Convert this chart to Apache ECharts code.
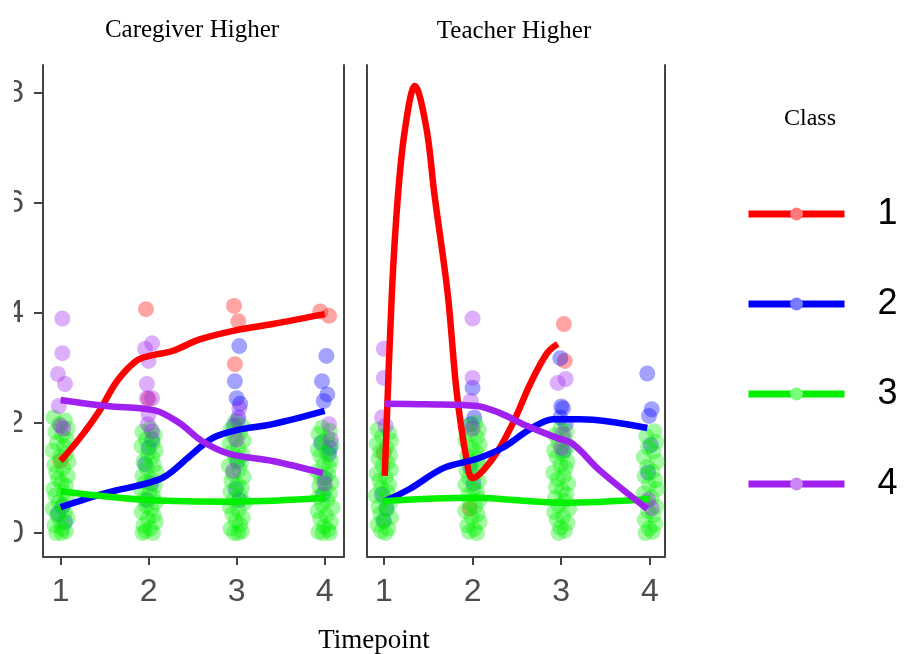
<!DOCTYPE html>
<html>
<head>
<meta charset="utf-8">
<script src="https://cdn.jsdelivr.net/npm/echarts@6/dist/echarts.min.js"></script>
<style>
  html, body { margin: 0; padding: 0; background: #fff; overflow: hidden; }
  #main { position: absolute; left: 14px; top: 0; width: 891px; height: 654px; }
</style>
</head>
<body>
<div id="main"></div>
<script>
// ---- data ----
var timepoints = [1, 2, 3, 4];
var yTicks = [0, 2, 4, 6, 8];
var classNames = ['1', '2', '3', '4'];
var classColors = ['#ff0000', '#0000ff', '#00f000', '#a020f0'];
var legendDotColors = ['#ff7a7a', '#7a7aff', '#7aff7a', '#cc85f5'];
var panelTitles = ['Caregiver Higher', 'Teacher Higher'];

// Caregiver Higher: raw points [jittered timepoint, score]
var cgPts1 = [[1.0,1.31],[1.97,4.07],[2.0,2.44],[2.97,4.13],[3.02,3.85],[2.98,3.07],[3.95,4.03],[4.05,3.95]];
var cgPts2 = [[1.02,0.48],[0.97,0.35],[1.05,0.2],
  [2.0,1.55],[1.96,1.25],[2.03,0.9],[1.98,0.6],[2.04,1.7],
  [3.03,3.4],[2.98,2.76],[3.0,2.45],[3.04,2.35],[3.02,2.1],[2.97,1.95],[3.01,1.3],[2.99,0.8],[3.03,0.6],
  [4.02,3.22],[3.97,2.76],[4.03,2.52],[3.99,2.4],[3.96,1.64],[4.06,1.55],[4.05,1.44],[4.0,1.0],[3.98,0.7]];
var cgPts3 = [
  [0.92,2.1],[1.05,2.05],[0.98,1.98],[1.08,1.9],[0.94,1.84],[1.02,1.78],[1.07,1.7],[0.96,1.64],[1.04,1.58],[0.91,1.5],
  [1.06,1.44],[0.99,1.38],[1.09,1.3],[0.93,1.24],[1.03,1.18],[0.95,1.1],[1.08,1.04],[0.97,0.98],[1.01,0.92],[1.06,0.86],
  [0.92,0.8],[1.04,0.74],[0.94,0.68],[1.07,0.62],[0.98,0.56],[1.03,0.5],[0.91,0.44],[1.05,0.38],[0.96,0.32],[1.08,0.26],
  [1.0,0.2],[0.93,0.14],[1.02,0.08],[1.06,0.03],[0.95,0.0],[1.01,0.0],
  [2.02,1.9],[1.93,1.84],[2.07,1.78],[1.97,1.7],[2.05,1.64],[1.92,1.58],[2.08,1.5],[1.99,1.44],[2.04,1.38],[1.94,1.3],
  [2.06,1.24],[1.98,1.18],[2.09,1.1],[1.93,1.04],[2.03,0.98],[1.96,0.92],[2.07,0.86],[1.91,0.8],[2.01,0.74],[2.05,0.68],
  [1.95,0.62],[2.08,0.56],[1.97,0.5],[2.03,0.44],[1.92,0.38],[2.06,0.32],[1.99,0.26],[2.08,0.2],[1.94,0.14],[2.02,0.08],
  [1.96,0.03],[2.05,0.0],[1.93,0.0],
  [2.98,2.02],[3.06,1.95],[2.93,1.88],[3.04,1.82],[2.97,1.75],[3.08,1.68],[2.92,1.62],[3.02,1.55],[2.95,1.48],[3.07,1.42],
  [2.99,1.35],[3.05,1.28],[2.91,1.22],[3.03,1.15],[2.96,1.08],[3.08,1.02],[2.94,0.95],[3.01,0.88],[3.06,0.82],[2.93,0.75],
  [3.04,0.68],[2.97,0.62],[3.09,0.55],[2.92,0.48],[3.02,0.42],[2.95,0.35],[3.07,0.28],[2.99,0.22],[3.04,0.15],[2.93,0.08],
  [3.06,0.03],[2.97,0.0],[3.02,0.0],
  [3.97,1.92],[4.06,1.86],[3.93,1.8],[4.03,1.72],[3.98,1.66],[4.08,1.6],[3.92,1.52],[4.02,1.46],[3.95,1.4],[4.07,1.32],
  [3.99,1.26],[4.05,1.2],[3.91,1.12],[4.04,1.06],[3.96,1.0],[4.08,0.92],[3.94,0.86],[4.01,0.8],[4.06,0.72],[3.93,0.66],
  [4.03,0.6],[3.97,0.52],[4.09,0.46],[3.92,0.4],[4.02,0.32],[3.95,0.26],[4.07,0.2],[3.99,0.12],[4.04,0.06],[3.93,0.02],
  [4.06,0.0],[3.98,0.0]];
var cgPts4 = [[1.02,3.9],[1.02,3.27],[0.97,2.89],[1.05,2.71],[0.98,2.31],[1.0,1.95],[1.03,1.9],
  [2.04,3.45],[1.96,3.35],[2.0,3.13],[1.98,2.71],[1.98,2.45],[2.04,2.45],[2.0,2.16],[1.99,1.98],[2.04,1.85],
  [3.03,2.27],[3.01,2.04],[2.96,1.13],[3.0,1.7],
  [4.05,1.98],[4.07,1.7],[4.0,0.9]];

// Caregiver Higher: smoothed class curves
var cgLine1 = [[1.0,1.31],[1.22,1.73],[1.44,2.22],[1.64,2.76],[1.86,3.13],[2.01,3.22],[2.27,3.31],[2.58,3.52],[3.0,3.69],[3.41,3.8],[4.0,3.98]];
var cgLine2 = [[1.0,0.47],[1.52,0.73],[2.0,0.91],[2.2,1.04],[2.47,1.4],[2.73,1.73],[3.0,1.87],[3.41,1.98],[4.0,2.22]];
var cgLine3 = [[1.0,0.76],[2.0,0.6],[3.0,0.57],[4.0,0.64]];
var cgLine4 = [[1.0,2.42],[1.52,2.31],[2.07,2.23],[2.35,2.0],[2.61,1.67],[2.92,1.44],[3.41,1.31],[3.98,1.09]];

// Teacher Higher: raw points
var tcPts1 = [[1.0,1.46],[1.97,0.44],[3.03,3.8],[3.04,3.13]];
var tcPts2 = [[1.0,0.22],[1.03,0.45],[0.98,0.7],
  [2.0,2.64],[1.98,1.98],[2.02,2.1],[1.97,1.2],[2.01,0.9],
  [2.99,3.18],[3.02,2.27],[3.05,1.98],[2.99,2.1],[3.0,2.3],[3.03,1.5],
  [3.97,2.9],[4.02,2.25],[3.99,2.13],[4.01,1.6],[3.98,1.1]];
var tcPts3 = [
  [0.93,1.88],[1.06,1.82],[0.98,1.75],[1.08,1.68],[0.92,1.62],[1.03,1.55],[0.96,1.48],[1.07,1.42],[0.94,1.35],[1.04,1.28],
  [0.99,1.22],[1.08,1.15],[0.92,1.08],[1.02,1.02],[0.95,0.95],[1.06,0.88],[0.97,0.82],[1.04,0.75],[0.91,0.68],[1.01,0.62],
  [1.07,0.55],[0.94,0.48],[1.03,0.42],[0.96,0.35],[1.08,0.28],[0.99,0.22],[0.93,0.15],[1.05,0.08],[0.97,0.03],[1.02,0.0],
  [2.03,2.0],[1.94,1.94],[2.07,1.88],[1.97,1.8],[2.05,1.74],[1.92,1.68],[2.08,1.6],[1.99,1.54],[2.04,1.48],[1.94,1.4],
  [2.06,1.34],[1.98,1.28],[2.09,1.2],[1.93,1.14],[2.03,1.08],[1.96,1.0],[2.07,0.94],[1.92,0.88],[2.01,0.8],[2.05,0.74],
  [1.95,0.68],[2.08,0.6],[1.97,0.54],[2.03,0.48],[1.92,0.4],[2.06,0.34],[1.99,0.28],[2.08,0.2],[1.94,0.14],[2.02,0.07],
  [1.96,0.02],[2.05,0.0],
  [2.99,1.9],[3.06,1.84],[2.93,1.78],[3.04,1.7],[2.97,1.64],[3.08,1.58],[2.92,1.5],[3.02,1.44],[2.95,1.38],[3.07,1.3],
  [2.99,1.24],[3.05,1.18],[2.91,1.1],[3.03,1.04],[2.96,0.98],[3.08,0.9],[2.94,0.84],[3.01,0.78],[3.06,0.7],[2.93,0.64],
  [3.04,0.58],[2.97,0.5],[3.09,0.44],[2.92,0.38],[3.02,0.3],[2.95,0.24],[3.07,0.18],[2.99,0.1],[3.04,0.04],[2.97,0.0],
  [4.05,1.85],[3.96,1.76],[4.07,1.66],[3.98,1.56],[4.04,1.48],[3.93,1.38],[4.08,1.3],[3.97,1.2],[4.03,1.12],[3.94,1.04],
  [4.06,0.96],[3.99,0.88],[4.08,0.8],[3.93,0.72],[4.02,0.64],[3.96,0.56],[4.07,0.48],[3.98,0.4],[4.04,0.32],[3.94,0.24],
  [4.06,0.16],[3.99,0.08],[4.03,0.02],[3.95,0.0]];
var tcPts4 = [[1.0,3.35],[1.0,2.82],[0.98,2.1],[1.02,1.95],
  [2.0,3.9],[2.0,2.82],[1.98,2.4],[2.0,1.9],
  [2.96,2.73],[3.05,2.8],[3.02,1.8],[3.0,1.55],
  [4.02,0.45],[3.98,0.6]];

// Teacher Higher: smoothed class curves
var tcLine1 = [[1.01,1.04],[1.09,4.35],[1.16,6.16],[1.24,7.36],[1.35,8.13],[1.48,7.36],[1.57,6.16],[1.72,4.35],[1.82,2.58],[1.93,1.36],[2.0,1.0],[2.23,1.36],[2.45,1.98],[2.65,2.71],[2.84,3.27],[2.96,3.44]];
var tcLine2 = [[1.01,0.58],[1.29,0.8],[1.67,1.18],[2.05,1.35],[2.34,1.55],[2.65,1.89],[2.91,2.07],[3.21,2.07],[3.97,1.91]];
var tcLine3 = [[1.0,0.58],[2.0,0.64],[3.0,0.55],[4.0,0.62]];
var tcLine4 = [[1.01,2.35],[1.48,2.34],[2.05,2.31],[2.31,2.18],[2.61,1.95],[2.95,1.73],[3.13,1.62],[3.44,1.13],[3.97,0.44]];

var cgPts = [cgPts1, cgPts2, cgPts3, cgPts4];
var cgLines = [cgLine1, cgLine2, cgLine3, cgLine4];
var tcPts = [tcPts1, tcPts2, tcPts3, tcPts4];
var tcLines = [tcLine1, tcLine2, tcLine3, tcLine4];

var Page = function(){

	var chart;
	var axisColor = '#444';
	var labelFont = '"Liberation Sans", Arial, sans-serif';
	var serifFont = '"Liberation Serif", "Times New Roman", serif';

	var borderAxis = function(grid, pos){
		return {
			type: 'value', gridIndex: grid, position: pos,
			min: -0.436, max: 8.51,
			axisLine: {show: true, onZero: false, lineStyle: {color: axisColor, width: 2}},
			axisTick: {show: false},
			axisLabel: {show: false},
			splitLine: {show: false}
		};
	};

	var xAxisFor = function(grid, min, max){
		return {
			type: 'value', gridIndex: grid, min: min, max: max,
			axisLine: {show: true, onZero: false, lineStyle: {color: axisColor, width: 2}},
			axisTick: {show: true, length: 8, lineStyle: {color: axisColor, width: 2}, customValues: timepoints},
			axisLabel: {
				color: '#4d4d4d', fontSize: 32, fontFamily: labelFont, margin: 19,
				customValues: timepoints
			},
			splitLine: {show: false}
		};
	};

	var buildSeries = function(pts, lines, xi, yi){
		var out = [];
		// 原始点
		for (var i = 0; i < pts.length; i++) {
			out.push({
				name: 'pts' + classNames[i], type: 'scatter',
				xAxisIndex: xi, yAxisIndex: yi,
				symbolSize: 16,
				itemStyle: {color: classColors[i], opacity: 0.36},
				data: pts[i], z: 2, silent: true
			});
		}
		// 平滑曲线
		for (var j = 0; j < lines.length; j++) {
			out.push({
				name: classNames[j], type: 'line',
				xAxisIndex: xi, yAxisIndex: yi,
				smooth: 0.35, symbol: 'circle', symbolSize: 14, showSymbol: false,
				lineStyle: {color: classColors[j], width: 6.5},
				itemStyle: {color: classColors[j]},
				data: lines[j], z: 3
			});
		}
		return out;
	};

	var initChart = function(){
		chart = echarts.init(document.getElementById('main'));
		var series = buildSeries(cgPts, cgLines, 0, 0).concat(buildSeries(tcPts, tcLines, 1, 2));
		var option = {
			backgroundColor: '#fff',
			animation: false,
			grid: [
				{left: 29, top: 65, width: 301, height: 492, outerBoundsMode: 'none', containLabel: false},
				{left: 353, top: 65, width: 298, height: 492, outerBoundsMode: 'none', containLabel: false}
			],
			xAxis: [xAxisFor(0, 0.8, 4.22), xAxisFor(1, 0.81, 4.17)],
			yAxis: [
				{
					type: 'value', gridIndex: 0, position: 'left',
					min: -0.436, max: 8.51,
					axisLine: {show: true, onZero: false, lineStyle: {color: axisColor, width: 2}},
					axisTick: {show: true, length: 9, lineStyle: {color: axisColor, width: 2}, customValues: yTicks},
					axisLabel: {color: '#4d4d4d', fontSize: 32, fontFamily: labelFont, margin: 19, customValues: yTicks},
					splitLine: {show: false}
				},
				borderAxis(0, 'right'),
				borderAxis(1, 'left'),
				borderAxis(1, 'right')
			],
			legend: {
				orient: 'vertical',
				left: 726, top: 189,
				itemWidth: 96, itemHeight: 16, itemGap: 50,
				data: classNames.map(function(n, k){
					return {name: n, itemStyle: {color: legendDotColors[k]}};
				}),
				lineStyle: {width: 7},
				textStyle: {fontSize: 36, fontFamily: labelFont, color: '#000', lineHeight: 40, padding: [0, 0, 0, 28]},
				selectedMode: false
			},
			graphic: [
				{type: 'text', x: 178, y: 30, style: {text: panelTitles[0], font: '25px ' + serifFont, fill: '#000', align: 'center', verticalAlign: 'middle'}},
				{type: 'text', x: 500, y: 31, style: {text: panelTitles[1], font: '25px ' + serifFont, fill: '#000', align: 'center', verticalAlign: 'middle'}},
				{type: 'text', x: 360, y: 641, style: {text: 'Timepoint', font: '27px ' + serifFont, fill: '#000', align: 'center', verticalAlign: 'middle'}},
				{type: 'text', x: 796, y: 119, style: {text: 'Class', font: '24px ' + serifFont, fill: '#000', align: 'center', verticalAlign: 'middle'}}
			],
			series: series
		};
		chart.setOption(option);
	};

	return {
		init: function(){
			initChart();
		}
	};
}();

Page.init();
</script>
</body>
</html>
